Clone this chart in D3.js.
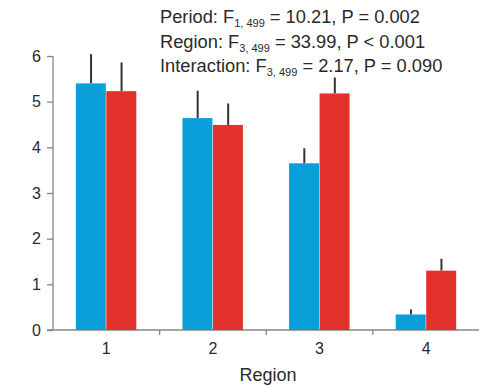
<!DOCTYPE html>
<html>
<head>
<meta charset="utf-8">
<script src="https://cdn.jsdelivr.net/npm/d3@7"></script>
<style>
  body { margin: 0; background: #fff; }
  svg { font-family: "Liberation Sans", Arial, sans-serif; }
  .axis path, .axis line { stroke: #8a8580; stroke-width: 1.3; fill: none; }
  .axis text { font-size: 16px; fill: #2a2a2a; }
  .note { font-size: 18.3px; fill: #2a2a2a; }
</style>
</head>
<body>
<svg id="chart" width="479" height="385"></svg>
<script>
const regions = ['1', '2', '3', '4'];
const series = ['Period 1', 'Period 2'];
const blueValues = [5.40, 4.64, 3.65, 0.34];
const blueErrors = [0.64, 0.60, 0.33, 0.11];
const redValues = [5.23, 4.49, 5.18, 1.30];
const redErrors = [0.63, 0.47, 0.35, 0.26];
const yTicks = [0, 1, 2, 3, 4, 5, 6];
const colors = ['#0a9fd9', '#e3322c'];
const notes = [
  ['Period: F', '1, 499', ' = 10.21, P = 0.002'],
  ['Region: F', '3, 499', ' = 33.99, P < 0.001'],
  ['Interaction: F', '3, 499', ' = 2.17, P = 0.090']
];

const margin = {top: 56, right: 0, bottom: 55, left: 53};
const width = 480 - margin.left - margin.right;
const height = 385 - margin.top - margin.bottom;

const svg = d3.select('#chart');
const chart = svg.append('g')
  .attr('transform', `translate(${margin.left},${margin.top})`);

const x = d3.scaleBand().domain(regions).range([0, 426.5]).padding(0);
const x1 = d3.scaleBand().domain(series).range([0, 61]);
const y = d3.scaleLinear().domain([0, 6]).range([height, 0]);

const data = regions.map((r, i) => ({
  region: r,
  bars: [
    {s: series[0], v: blueValues[i], e: blueErrors[i], c: colors[0]},
    {s: series[1], v: redValues[i], e: redErrors[i], c: colors[1]}
  ]
}));

// x axis: ticks at group boundaries, labels centered
const xAxisG = chart.append('g')
  .attr('class', 'axis')
  .attr('transform', `translate(0,${height})`);
xAxisG.append('line').attr('x1', -6).attr('x2', width);
xAxisG.selectAll('.xt')
  .data(regions.slice(1))
  .enter().append('line')
    .attr('x1', d => x(d)).attr('x2', d => x(d))
    .attr('y1', 0).attr('y2', 5);
xAxisG.selectAll('text')
  .data(regions)
  .enter().append('text')
    .attr('x', d => x(d) + x.bandwidth() / 2)
    .attr('y', 24)
    .attr('text-anchor', 'middle')
    .text(d => d);

// y axis
const yAxis = d3.axisLeft(y).tickValues(yTicks).tickFormat(d3.format('d'))
  .tickSize(6).tickPadding(6).tickSizeOuter(0);
const yAxisG = chart.append('g').attr('class', 'axis').call(yAxis);
yAxisG.select('.domain').attr('d', `M0,${y(6)}V${height}`);

// bars
const groups = chart.selectAll('.grp')
  .data(data)
  .enter().append('g')
    .attr('transform', d => `translate(${x(d.region) + (x.bandwidth() - 61) / 2},0)`);

groups.selectAll('line.err')
  .data(d => d.bars)
  .enter().append('line')
    .attr('class', 'err')
    .attr('x1', d => x1(d.s) + x1.bandwidth() / 2)
    .attr('x2', d => x1(d.s) + x1.bandwidth() / 2)
    .attr('y1', d => y(d.v))
    .attr('y2', d => y(d.v + d.e))
    .attr('stroke', '#333')
    .attr('stroke-width', 2);

groups.selectAll('rect')
  .data(d => d.bars)
  .enter().append('rect')
    .attr('x', d => x1(d.s))
    .attr('y', d => y(d.v))
    .attr('width', x1.bandwidth() - 0.5)
    .attr('height', d => height - y(d.v))
    .attr('fill', d => d.c);

// x label
svg.append('text')
  .attr('x', 268)
  .attr('y', 381)
  .attr('text-anchor', 'middle')
  .style('font-size', '18px')
  .attr('fill', '#2a2a2a')
  .text('Region');

// stats notes
notes.forEach((n, i) => {
  const t = svg.append('text')
    .attr('class', 'note')
    .attr('x', 160)
    .attr('y', 23 + i * 24.5);
  t.append('tspan').text(n[0]);
  t.append('tspan').attr('dy', 4).style('font-size', '11px').text(n[1]);
  t.append('tspan').attr('dy', -4).text(n[2]);
});
</script>
</body>
</html>
